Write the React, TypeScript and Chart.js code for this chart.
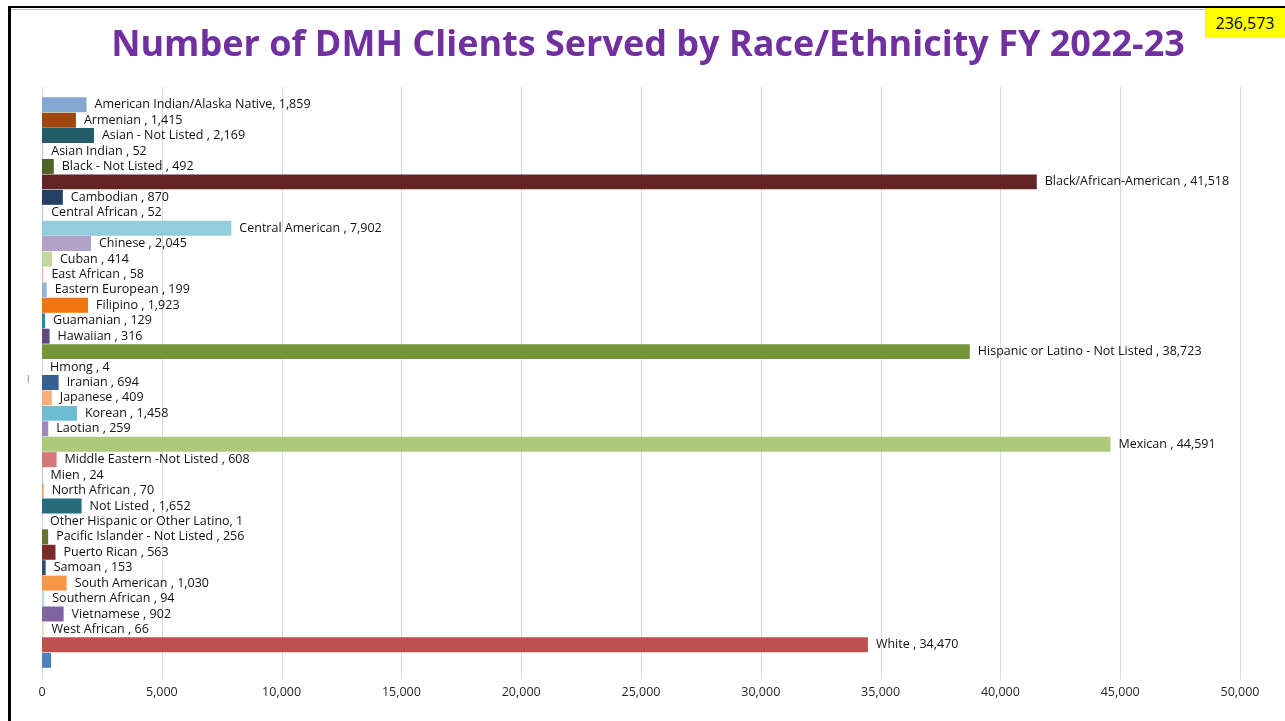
import React, { useEffect, useRef } from "react";
import { Chart, registerables } from "chart.js";

Chart.register(...registerables);

const categories: string[] = [
  "American Indian/Alaska Native",
  "Armenian ",
  "Asian - Not Listed ",
  "Asian Indian ",
  "Black - Not Listed ",
  "Black/African-American ",
  "Cambodian ",
  "Central African ",
  "Central American ",
  "Chinese ",
  "Cuban ",
  "East African ",
  "Eastern European ",
  "Filipino ",
  "Guamanian ",
  "Hawaiian ",
  "Hispanic or Latino - Not Listed ",
  "Hmong ",
  "Iranian ",
  "Japanese ",
  "Korean ",
  "Laotian ",
  "Mexican ",
  "Middle Eastern -Not Listed ",
  "Mien ",
  "North African ",
  "Not Listed ",
  "Other Hispanic or Other Latino",
  "Pacific Islander - Not Listed ",
  "Puerto Rican ",
  "Samoan ",
  "South American ",
  "Southern African ",
  "Vietnamese ",
  "West African ",
  "White ",
  "",
];

const clients: number[] = [
  1859, 1415, 2169, 52, 492, 41518, 870, 52, 7902, 2045, 414, 58, 199, 1923,
  129, 316, 38723, 4, 694, 409, 1458, 259, 44591, 608, 24, 70, 1652, 1, 256,
  563, 153, 1030, 94, 902, 66, 34470, 380,
];

const barColors: string[] = [
  "#84A7D3", "#9E480E", "#235C69", "#B9CDE5", "#4F6228", "#632523", "#243F60",
  "#B9CDE5", "#93CDDD", "#B3A2C7", "#C3D69B", "#E6B9B8", "#95B3D7", "#F2750F",
  "#31859C", "#604A7B", "#77933C", "#FAC090", "#376092", "#FAAE78", "#6CBDD1",
  "#9C88BC", "#ADC97A", "#D6787A", "#8EB4E3", "#E0A874", "#286B7D", "#CCC1DA",
  "#5F7530", "#772C2A", "#2C4D75", "#F79646", "#B7DEE8", "#8064A2", "#D7E4BD",
  "#C0504D", "#4F81BD",
];

const xTicks: number[] = [0, 5000, 10000, 15000, 20000, 25000, 30000, 35000, 40000, 45000, 50000];

const titleText = "Number of DMH Clients Served by Race/Ethnicity FY 2022-23";
const totalText = "236,573";

const fmt = (v: number) => v.toLocaleString("en-US");

const gridPlugin = {
  id: "extGrid",
  beforeDatasetsDraw(chart: any) {
    const { ctx, chartArea, scales } = chart;
    const x = scales.x;
    ctx.save();
    ctx.strokeStyle = "#D9D9D9";
    ctx.lineWidth = 1;
    xTicks.forEach((v) => {
      const px = Math.round(x.getPixelForValue(v)) + 0.5;
      ctx.beginPath();
      ctx.moveTo(px, chartArea.top - 10);
      ctx.lineTo(px, chartArea.bottom + 11);
      ctx.stroke();
    });
    ctx.restore();
  },
};

const labelPlugin = {
  id: "barLabels",
  afterDatasetsDraw(chart: any) {
    const { ctx } = chart;
    const meta = chart.getDatasetMeta(0);
    ctx.save();
    ctx.font = '12.5px "Open Sans"';
    ctx.fillStyle = "#111111";
    ctx.textBaseline = "middle";
    ctx.textAlign = "left";
    meta.data.forEach((bar: any, i: number) => {
      const name = categories[i];
      if (!name) return;
      ctx.fillText(`${name}, ${fmt(clients[i])}`, bar.x + 8, bar.y);
    });
    ctx.restore();
  },
};

export default function App() {
  const ref = useRef<HTMLCanvasElement | null>(null);

  useEffect(() => {
    if (!ref.current) return;
    const chart = new Chart(ref.current, {
      type: "bar",
      data: {
        labels: categories,
        datasets: [
          {
            data: clients,
            backgroundColor: barColors,
            borderWidth: 0,
            barPercentage: 0.97,
            categoryPercentage: 1,
          },
        ],
      },
      options: {
        indexAxis: "y",
        animation: false,
        responsive: false,
        devicePixelRatio: 1,
        layout: { padding: { left: 42, right: 45, top: 97, bottom: 4 } },
        plugins: {
          legend: { display: false },
          tooltip: { enabled: false },
          title: { display: false },
        },
        scales: {
          x: {
            min: 0,
            max: 50000,
            afterBuildTicks: (scale: any) => {
              scale.ticks = xTicks.map((v) => ({ value: v }));
            },
            grid: { display: false, drawTicks: false },
            border: { display: false },
            ticks: {
              padding: 17,
              color: "#262626",
              font: { family: '"Open Sans"', size: 12.5 },
              callback: (v: any) => fmt(Number(v)),
              maxRotation: 0,
            },
          },
          y: {
            display: false,
          },
        },
      },
      plugins: [gridPlugin, labelPlugin],
    });
    return () => chart.destroy();
  }, []);

  return (
    <div
      style={{
        position: "absolute",
        left: 0,
        top: 0,
        width: 1285,
        height: 721,
        background: "#FFFFFF",
        overflow: "hidden",
      }}
    >
      <canvas
        ref={ref}
        width={1285}
        height={721}
        style={{ position: "absolute", left: 0, top: 0, width: 1285, height: 721 }}
      />
      <div
        style={{
          position: "absolute",
          left: 8,
          top: 6,
          width: 1277,
          height: 715,
          borderTop: "2px solid #000",
          borderLeft: "3px solid #000",
          pointerEvents: "none",
        }}
      />
      <div
        style={{
          position: "absolute",
          left: 11,
          top: 9,
          width: 1274,
          height: 1,
          background: "#BFBFBF",
        }}
      />
      <div
        style={{
          position: "absolute",
          left: 11,
          top: 24.7,
          width: 1274,
          textAlign: "center",
          fontFamily: '"Open Sans"',
          fontWeight: 700,
          fontSize: 36,
          lineHeight: "36px",
          color: "#7030A0",
          whiteSpace: "nowrap",
        }}
      >
        {titleText}
      </div>
      <div
        style={{
          position: "absolute",
          left: 1205,
          top: 8,
          width: 80,
          height: 30,
          background: "#FFFF00",
          fontFamily: '"Open Sans"',
          fontSize: 16,
          lineHeight: "30px",
          textAlign: "center",
          color: "#000",
        }}
      >
        {totalText}
      </div>
      <div
        style={{
          position: "absolute",
          left: 27,
          top: 372,
          fontFamily: '"Open Sans"',
          fontSize: 10,
          color: "#7F7F7F",
        }}
      >
        l
      </div>
    </div>
  );
}
